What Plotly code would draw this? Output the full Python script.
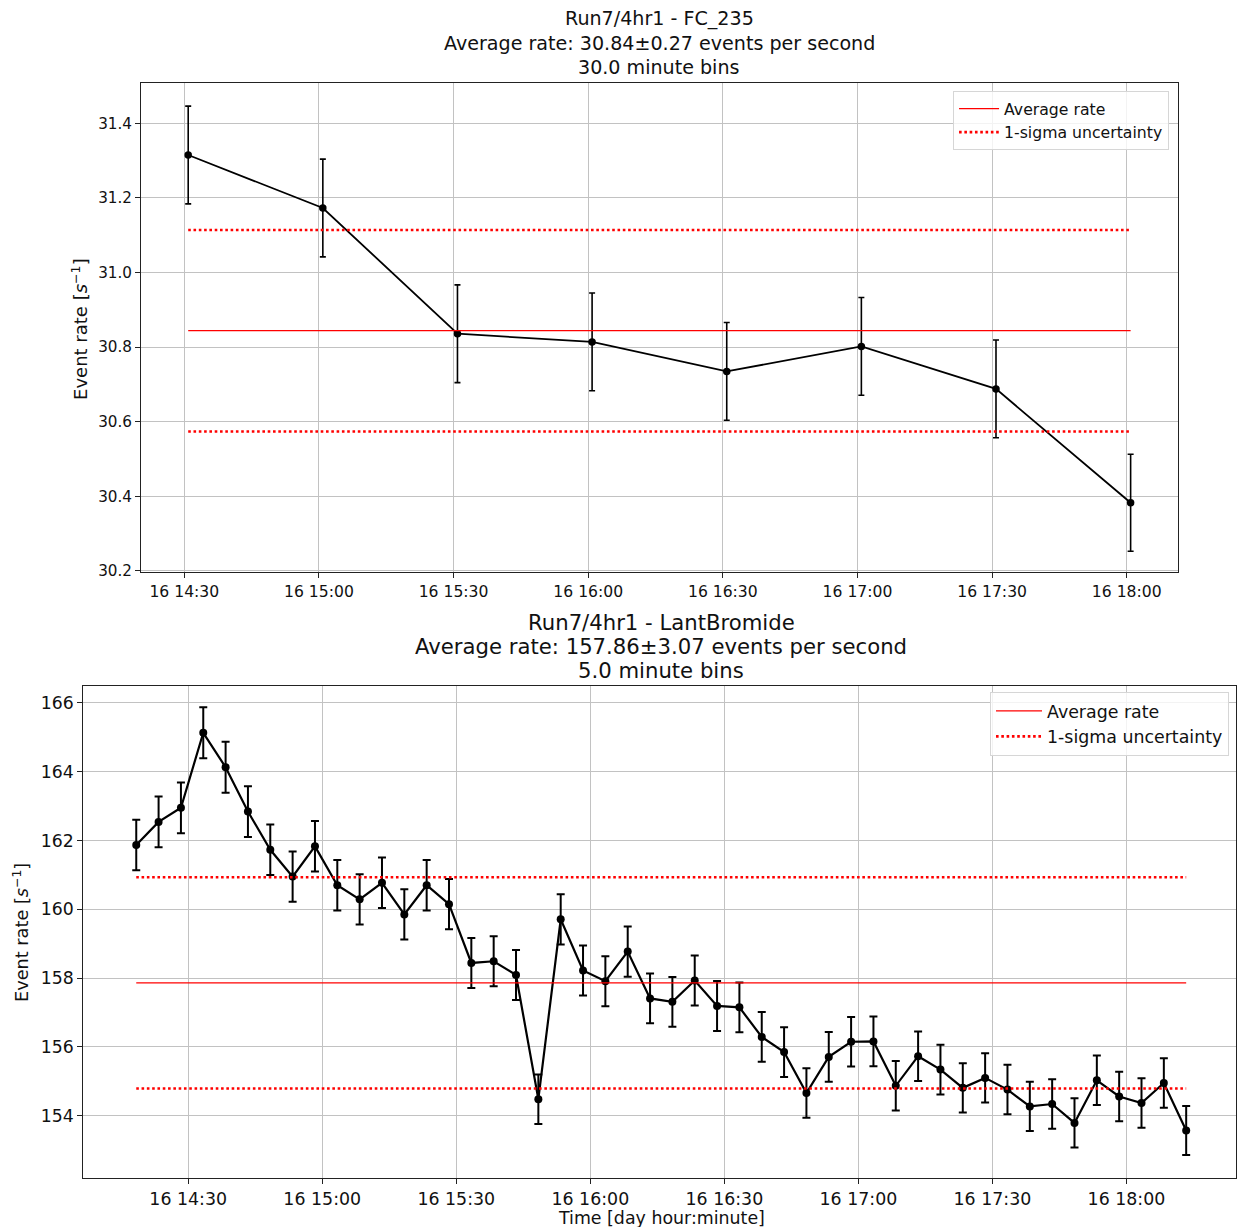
import plotly.graph_objects as go

DAY = "2023-03-16"
FONT = "DejaVu Sans"

# ---------------- top panel: FC_235, 30 minute bins ----------------
top_times = ["14:30:52", "15:00:52", "15:30:52", "16:00:52",
             "16:30:52", "17:00:52", "17:30:52", "18:00:52"]
top_rates = [31.315, 31.173, 30.836, 30.814, 30.735, 30.802, 30.688, 30.383]
top_errs = [0.131, 0.131, 0.131, 0.131, 0.131, 0.131, 0.131, 0.130]
top_avg = 30.844
top_sigma = 0.27
top_title = ["Run7/4hr1 - FC_235",
             "Average rate: 30.84±0.27 events per second",
             "30.0 minute bins"]

# ---------------- bottom panel: LantBromide, 5 minute bins ----------------
bot_times = ["14:18:22", "14:23:22", "14:28:22", "14:33:22", "14:38:22", "14:43:22",
             "14:48:22", "14:53:22", "14:58:22", "15:03:22", "15:08:22", "15:13:22",
             "15:18:22", "15:23:22", "15:28:22", "15:33:22", "15:38:22", "15:43:22",
             "15:48:22", "15:53:22", "15:58:22", "16:03:22", "16:08:22", "16:13:22",
             "16:18:22", "16:23:22", "16:28:22", "16:33:22", "16:38:22", "16:43:22",
             "16:48:22", "16:53:22", "16:58:22", "17:03:22", "17:08:22", "17:13:22",
             "17:18:22", "17:23:22", "17:28:22", "17:33:22", "17:38:22", "17:43:22",
             "17:48:22", "17:53:22", "17:58:22", "18:03:22", "18:08:22", "18:13:22"]
bot_rates = [161.87, 162.54, 162.95, 165.13, 164.13, 162.84, 161.73, 160.95,
             161.83, 160.70, 160.29, 160.77, 159.85, 160.70, 160.15, 158.44,
             158.49, 158.09, 154.48, 159.71, 158.22, 157.91, 158.77, 157.41,
             157.31, 157.93, 157.19, 157.15, 156.29, 155.85, 154.66, 155.71,
             156.15, 156.16, 154.87, 155.73, 155.34, 154.81, 155.10, 154.76,
             154.27, 154.34, 153.79, 155.03, 154.56, 154.37, 154.95, 153.57]
bot_errs = [0.735, 0.736, 0.737, 0.742, 0.740, 0.737, 0.734, 0.732,
            0.734, 0.732, 0.731, 0.732, 0.730, 0.732, 0.731, 0.727,
            0.727, 0.726, 0.718, 0.730, 0.726, 0.726, 0.727, 0.724,
            0.724, 0.726, 0.724, 0.724, 0.722, 0.721, 0.718, 0.720,
            0.721, 0.721, 0.718, 0.720, 0.720, 0.718, 0.719, 0.718,
            0.717, 0.717, 0.716, 0.719, 0.718, 0.717, 0.719, 0.715]
bot_avg = 157.86
bot_sigma = 3.07
bot_title = ["Run7/4hr1 - LantBromide",
             "Average rate: 157.86±3.07 events per second",
             "5.0 minute bins"]

legend_names = ["Average rate", "1-sigma uncertainty"]
ylabel = "Event rate [<i>s</i><sup>−1</sup>]"
xlabel = "Time [day hour:minute]"

W, H = 1237, 1227
K = 1227.0 / 1235.0   # observed vertical squeeze of the rendered page
DOT = "2.6px,2.7px"


def ts(t):
    return f"{DAY} {t}"


fig = go.Figure()


def add_panel(times, rates, errs, avg, sigma, xa, ya, legend, lw, msize, capw, ethick):
    x = [ts(t) for t in times]
    fig.add_trace(go.Scatter(
        x=x, y=rates, mode="lines+markers", xaxis=xa, yaxis=ya,
        line=dict(color="black", width=lw),
        marker=dict(color="black", size=msize),
        error_y=dict(type="data", array=errs, visible=True, color="black",
                     thickness=ethick, width=capw),
        showlegend=False, legend=legend))
    ends = [x[0], x[-1]]
    fig.add_trace(go.Scatter(
        x=ends, y=[avg, avg], mode="lines", xaxis=xa, yaxis=ya,
        line=dict(color="red", width=1.3), name=legend_names[0],
        legend=legend, showlegend=True))
    fig.add_trace(go.Scatter(
        x=ends, y=[avg + sigma, avg + sigma], mode="lines", xaxis=xa, yaxis=ya,
        line=dict(color="red", width=2.6, dash=DOT), name=legend_names[1],
        legend=legend, legendgroup=legend + "s", showlegend=True))
    fig.add_trace(go.Scatter(
        x=ends, y=[avg - sigma, avg - sigma], mode="lines", xaxis=xa, yaxis=ya,
        line=dict(color="red", width=2.6, dash=DOT), name=legend_names[1],
        legend=legend, legendgroup=legend + "s", showlegend=False))


add_panel(top_times, top_rates, top_errs, top_avg, top_sigma, "x", "y", "legend", 1.8, 7.5, 3, 1.6)
add_panel(bot_times, bot_rates, bot_errs, bot_avg, bot_sigma, "x2", "y2", "legend2", 2.2, 8, 4, 2)

grid = "#c2c2c2"


def xaxis(domain, anchor, rng, fs):
    return dict(domain=domain, anchor=anchor, type="date", range=rng,
                tick0=ts("14:30:00"), dtick=1800000, tickformat="%d %H:%M",
                showgrid=True, gridcolor=grid, gridwidth=1,
                showline=True, linecolor="#222", linewidth=1, mirror=True,
                ticks="outside", ticklen=5, tickwidth=1, tickcolor="#222",
                tickfont=dict(family=FONT, size=fs, color="#111"),
                zeroline=False)


def yaxis(domain, anchor, rng, tick0, dtick, fmt, fs):
    return dict(domain=domain, anchor=anchor, range=rng, tick0=tick0, dtick=dtick,
                tickformat=fmt, showgrid=True, gridcolor=grid, gridwidth=1,
                showline=True, linecolor="#222", linewidth=1, mirror=True,
                ticks="outside", ticklen=5, tickwidth=1, tickcolor="#222",
                tickfont=dict(family=FONT, size=fs, color="#111"),
                zeroline=False)


def px_x(p):
    return p / W


def px_y(p):
    return max(0.0, (H - p / K) / H)


annotations = []
for txt, yc in zip(top_title, [19, 44, 68]):
    annotations.append(dict(text=txt, x=px_x(660), y=px_y(yc), xref="paper", yref="paper",
                            xanchor="center", yanchor="middle", showarrow=False,
                            font=dict(family=FONT, size=19.1, color="#111")))
for txt, yc in zip(bot_title, [623, 647, 671]):
    annotations.append(dict(text=txt, x=px_x(662), y=px_y(yc), xref="paper", yref="paper",
                            xanchor="center", yanchor="middle", showarrow=False,
                            font=dict(family=FONT, size=21.2, color="#111")))
annotations.append(dict(text=ylabel, x=px_x(80), y=px_y(329), xref="paper", yref="paper",
                        xanchor="center", yanchor="middle", textangle=-90, showarrow=False,
                        font=dict(family=FONT, size=18, color="#111")))
annotations.append(dict(text=ylabel, x=px_x(21), y=px_y(932), xref="paper", yref="paper",
                        xanchor="center", yanchor="middle", textangle=-90, showarrow=False,
                        font=dict(family=FONT, size=17.7, color="#111")))
annotations.append(dict(text=xlabel, x=px_x(662), y=px_y(1218), xref="paper", yref="paper",
                        xanchor="center", yanchor="middle", showarrow=False,
                        font=dict(family=FONT, size=17.4, color="#111")))

fig.update_layout(
    width=W, height=H,
    margin=dict(l=0, r=0, t=0, b=0),
    paper_bgcolor="white", plot_bgcolor="white",
    font=dict(family=FONT, color="#111"),
    xaxis=xaxis([px_x(141.2), px_x(1178.7)], "y", [ts("14:20:22"), ts("18:11:22")], 15.6),
    yaxis=yaxis([px_y(572.5), px_y(83)], "x", [30.196, 31.508], 30.2, 0.2, ".1f", 15.2),
    xaxis2=xaxis([px_x(83.3), 1.0], "y2", [ts("14:06:30"), ts("18:24:31")], 17.4),
    yaxis2=yaxis([px_y(1177.7), px_y(685.7)], "x2", [152.20, 166.50], 154, 2, "d", 17.3),
    legend=dict(x=px_x(1170), y=px_y(91), xanchor="right", yanchor="top",
                bgcolor="rgba(255,255,255,0.8)", bordercolor="#d6d6d6", borderwidth=1,
                itemwidth=40,
                font=dict(family=FONT, size=15.7, color="#111"), tracegroupgap=0),
    legend2=dict(x=px_x(1230), y=px_y(692), xanchor="right", yanchor="top",
                 bgcolor="rgba(255,255,255,0.8)", bordercolor="#d6d6d6", borderwidth=1,
                 itemwidth=46,
                 font=dict(family=FONT, size=17.4, color="#111"), tracegroupgap=0),
    annotations=annotations,
    showlegend=True,
)

fig.write_html("out.html")
